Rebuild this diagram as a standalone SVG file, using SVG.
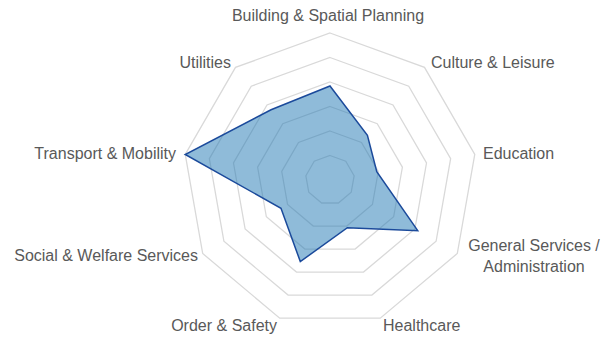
<svg xmlns="http://www.w3.org/2000/svg" width="602" height="343" viewBox="0 0 602 343">
<style>
.ring{fill:none;stroke:#d9d9d9;stroke-width:1.3}
.lbl{font-family:"Liberation Sans",Arial,sans-serif;font-size:16px;fill:#595959}
.data{fill:rgba(31,119,180,0.5);stroke:#1b4a9b;stroke-width:1.5;stroke-linejoin:miter}
</style>
<rect width="602" height="343" fill="#ffffff"/>
<g id="grid">
<polygon class="ring" points="330,155.5 345.75,161.23 354.13,175.75 351.22,192.25 338.38,203.02 321.62,203.02 308.78,192.25 305.87,175.75 314.25,161.23"/>
<polygon class="ring" points="330,131 361.5,142.47 378.26,171.49 372.43,204.5 346.76,226.05 313.24,226.05 287.57,204.5 281.74,171.49 298.5,142.47"/>
<polygon class="ring" points="330,106.5 377.25,123.7 402.38,167.24 393.65,216.75 355.14,249.07 304.86,249.07 266.35,216.75 257.62,167.24 282.75,123.7"/>
<polygon class="ring" points="330,82 392.99,104.93 426.51,162.99 414.87,229 363.52,272.09 296.48,272.09 245.13,229 233.49,162.99 267.01,104.93"/>
<polygon class="ring" points="330,57.5 408.74,86.16 450.64,158.73 436.09,241.25 371.9,295.11 288.1,295.11 223.91,241.25 209.36,158.73 251.26,86.16"/>
<polygon class="ring" points="330,33 424.49,67.4 474.77,154.48 457.3,253.5 380.27,318.14 279.73,318.14 202.7,253.5 185.23,154.48 235.51,67.4"/>
</g>
<g id="series">
<polygon class="data" points="330,86 367.41,135.42 376.78,171.75 417.73,230.65 347.37,227.74 300.31,261.57 280.98,208.3 185.23,154.48 271.06,109.76"/>
</g>
<g id="labels">
<g id="lbl-building"><text class="lbl" x="328" y="21" text-anchor="middle">Building &amp; Spatial Planning</text></g>
<g id="lbl-culture"><text class="lbl" x="431" y="68">Culture &amp; Leisure</text></g>
<g id="lbl-education"><text class="lbl" x="483" y="159">Education</text></g>
<g id="lbl-general"><text class="lbl" x="534" y="251" text-anchor="middle">General Services /</text><text class="lbl" x="534" y="272" text-anchor="middle">Administration</text></g>
<g id="lbl-healthcare"><text class="lbl" x="383" y="331">Healthcare</text></g>
<g id="lbl-order"><text class="lbl" x="277" y="331" text-anchor="end">Order &amp; Safety</text></g>
<g id="lbl-social"><text class="lbl" x="198" y="261" text-anchor="end">Social &amp; Welfare Services</text></g>
<g id="lbl-transport"><text class="lbl" x="176" y="159" text-anchor="end">Transport &amp; Mobility</text></g>
<g id="lbl-utilities"><text class="lbl" x="231" y="68" text-anchor="end">Utilities</text></g>
</g>
</svg>
